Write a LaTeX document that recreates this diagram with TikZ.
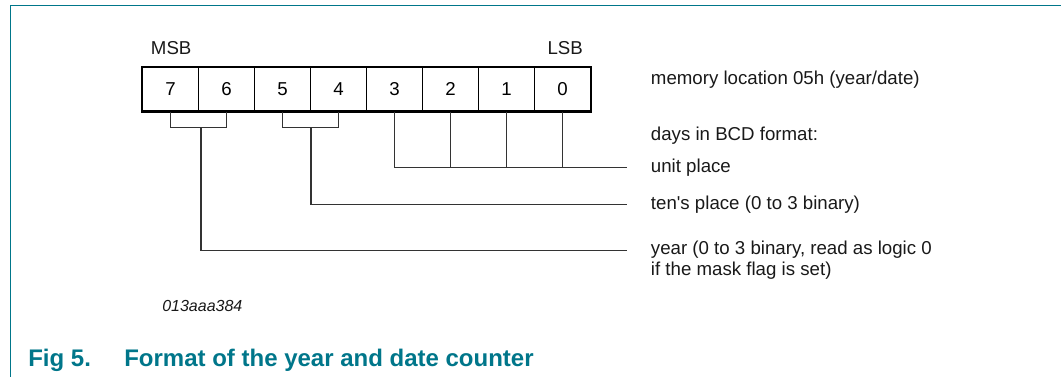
\documentclass[tikz,border=0pt]{standalone}
\usepackage{fontspec}
\setmainfont{Liberation Sans}
\usepackage{xcolor}
\usepackage{tikz}
\usetikzlibrary{calc}
\definecolor{nxpteal}{RGB}{0,118,138}

\begin{document}
\begin{tikzpicture}[x=0.75pt,y=0.75pt]
                \tikzstyle{every node}+=[inner sep=0pt, font=\fontsize{14}{15.75}\selectfont]
                \tikzstyle{cell}=[draw, line width=1pt, minimum width=42pt, minimum height=32.6pt]
                \tikzstyle{lbl}=[anchor=base west, align=left, text=black!90]
                \tikzstyle{lead}=[line width=0.9pt, black!80]
                \useasboundingbox (0,0) rectangle (1062,-377);
                % frame
                \draw [nxpteal, line width=1.1pt] (10.5,-377) -- (10.5,-5.3) -- (1061,-5.3);
                % register cells
                \foreach \bit [count=\i from 0] in {7,6,...,0}
                    \node [cell] (b\bit) at ({170.5+56*\i},-89.25) {\bit};
                \draw [line width=1.5pt] (b7.north west) rectangle (b0.south east);
                \node [lbl] (msb) at (150.7,-55) {MSB};
                \node [lbl] (lsb) at (547.3,-55) {LSB};
                % labels
                \node [lbl] (lmem) at (650.7,-85) {memory location 05h (year/date)};
                \node [lbl] (lbcd) at (650.7,-141) {days in BCD format:};
                \node [lbl] (lunit) at (650.7,-172.5) {unit place};
                \node [lbl] (lten) at (650.7,-209.5) {ten\textquotesingle s place (0 to 3 binary)};
                \node [lbl] (lyear) at (650.7,-276) {year (0 to 3 binary, read as logic 0\\if the mask flag is set)};
                \coordinate (eunit) at ($(lunit.base west)+(-24,4.8)$);
                \coordinate (eten) at ($(lten.base west)+(-24,4.8)$);
                \coordinate (eyear) at ($(lyear.base west)+(-24,25.8)$);
                % unit place
                \draw [lead] (b3.south) |- (eunit);
                \foreach \bit in {2,1,0}
                    \draw [lead] (b\bit.south) -- (b\bit.south |- eunit);
                % ten's place
                \coordinate (mten) at (311,-127.5);
                \draw [lead] (b5.south) |- (mten) -| (b4.south);
                \draw [lead] (mten) |- (eten);
                % year
                \coordinate (myear) at (201,-127.5);
                \draw [lead] (b7.south) |- (myear) -| (b6.south);
                \draw [lead] (myear) |- (eyear);
                % figure id and caption
                \node [lbl, font=\fontsize{12}{14}\selectfont\itshape] (fid) at (162,-311) {013aaa384};
                \node [lbl, font=\fontsize{18}{21}\selectfont\bfseries, text=nxpteal] (cap) at (28,-366) {Fig 5.\hspace{25pt}Format of the year and date counter};
            \end{tikzpicture}
\end{document}
